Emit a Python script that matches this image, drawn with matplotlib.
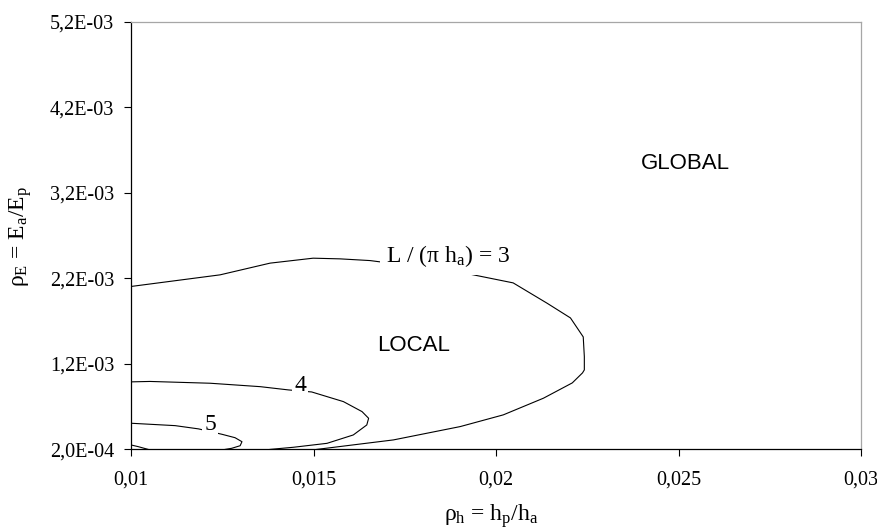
import matplotlib
matplotlib.use('Agg')
import matplotlib.pyplot as plt

plt.rcParams['font.family'] = ['Liberation Serif', 'DejaVu Serif']
plt.rcParams['mathtext.fontset'] = 'custom'
plt.rcParams['mathtext.rm'] = 'Liberation Serif'
plt.rcParams['mathtext.it'] = 'Liberation Serif:italic'

# curve L/(pi h_a) = 3
x3 = [0.0100, 0.01244, 0.01381, 0.01499, 0.01573, 0.01655, 0.01902, 0.02047,
      0.02140, 0.02204, 0.02239, 0.02242, 0.02242, 0.02237, 0.02209, 0.02130,
      0.02020, 0.01902, 0.01719, 0.01509]
y3 = [0.002106, 0.002242, 0.002379, 0.002437, 0.002429, 0.002409, 0.002273, 0.002148,
      0.001910, 0.001738, 0.001516, 0.001286, 0.001130, 0.001095, 0.000978, 0.000799,
      0.000604, 0.000467, 0.000311, 0.000200]

# curve = 4
x4 = [0.0100, 0.01052, 0.01217, 0.01354, 0.01431, 0.01495, 0.01582, 0.01633,
      0.01651, 0.01646, 0.01609, 0.01537, 0.01445, 0.01381]
y4 = [0.000990, 0.000995, 0.000974, 0.000934, 0.000896, 0.000872, 0.000759, 0.000642,
      0.000564, 0.000486, 0.000369, 0.000271, 0.000225, 0.000200]

# curve = 5
x5 = [0.0100, 0.01121, 0.01185, 0.01249, 0.01285, 0.01304, 0.01299, 0.01276, 0.01258]
y5 = [0.000506, 0.000478, 0.000440, 0.000377, 0.000337, 0.000290, 0.000243, 0.000213, 0.000200]

# innermost curve (unlabelled)
x6 = [0.0100, 0.01020, 0.01047]
y6 = [0.000252, 0.000232, 0.000200]

xticks = [0.01, 0.015, 0.02, 0.025, 0.03]
xtick_labels = ['0,01', '0,015', '0,02', '0,025', '0,03']
yticks = [0.0002, 0.0012, 0.0022, 0.0032, 0.0042, 0.0052]
ytick_labels = ['2,0E-04', '1,2E-03', '2,2E-03', '3,2E-03', '4,2E-03', '5,2E-03']

fig = plt.figure(figsize=(8.78, 5.29), dpi=100)
ax = fig.add_axes([131/878, 1 - 449.4/529, 730/878, 427.4/529])

for xs, ys in [(x3, y3), (x4, y4), (x5, y5), (x6, y6)]:
    ax.plot(xs, ys, color='black', lw=0.8, zorder=2)

box = dict(facecolor='white', edgecolor='none', pad=1.5)
ax.text(0.01869, 0.002463, 'L / (π h$_{\\rm a}$) = 3', fontsize=17,
        ha='center', va='center', bbox=dict(facecolor='white', edgecolor='none', pad=4),
        zorder=3)
ax.text(0.014634, 0.000953, '4', fontsize=17, ha='center', va='center', bbox=box, zorder=3)
ax.text(0.012166, 0.000494, '5', fontsize=17, ha='center', va='center', bbox=box, zorder=3)

ax.text(0.01773, 0.001421, 'LOCAL', fontsize=16, family='Liberation Sans',
        ha='center', va='center')
ax.text(0.02519, 0.003547, 'GLOBAL', fontsize=16, family='Liberation Sans',
        ha='center', va='center')

ax.set_xlim(0.01, 0.03)
ax.set_ylim(0.0002, 0.0052)
ax.set_xticks(xticks)
ax.set_xticklabels(xtick_labels)
ax.set_yticks(yticks)
ax.set_yticklabels(ytick_labels)
ax.tick_params(direction='out', length=5, width=0.8, labelsize=14.5, color='black')
ax.tick_params(axis='x', pad=10)
ax.tick_params(axis='y', pad=7)

for s in ['left', 'bottom']:
    ax.spines[s].set_color('black')
    ax.spines[s].set_linewidth(0.9)
for s in ['top', 'right']:
    ax.spines[s].set_color('#a6a6a6')
    ax.spines[s].set_linewidth(0.9)

fig.text(21/878, 1 - 236/529, 'ρ$_{\\rm E}$ = E$_{\\rm a}$/E$_{\\rm p}$', fontsize=17,
         rotation=90, ha='center', va='center')
fig.text(491/878, 1 - 516/529, 'ρ$_{\\rm h}$ = h$_{\\rm p}$/h$_{\\rm a}$', fontsize=17,
         ha='center', va='center')

fig.savefig('out.png', dpi=100)
